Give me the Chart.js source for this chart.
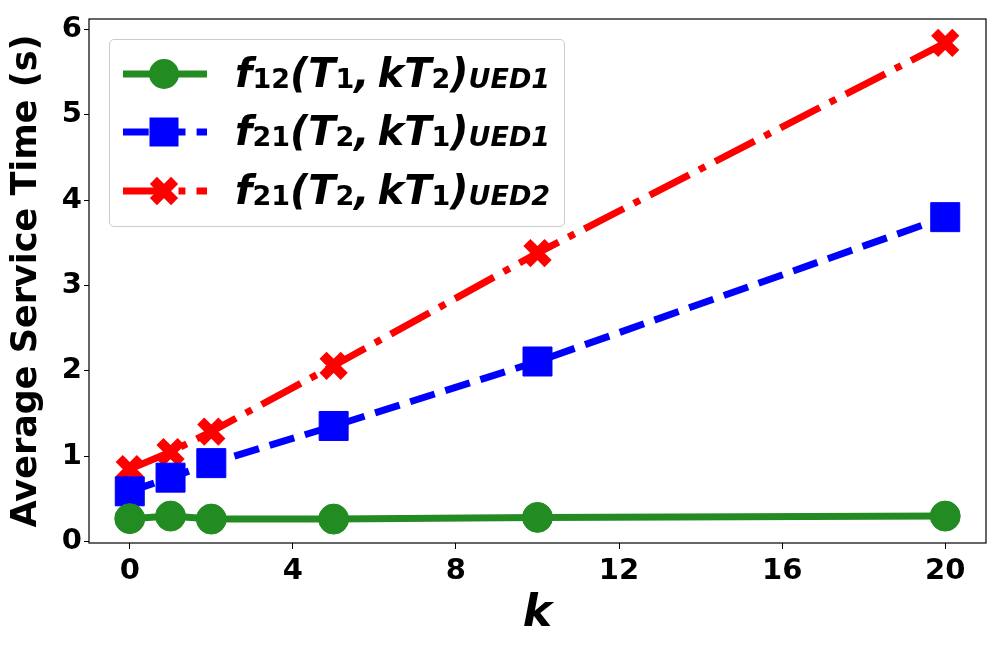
<!DOCTYPE html>
<html>
<head>
<meta charset="utf-8">
<script src="https://cdn.jsdelivr.net/npm/chart.js@4.4.0/dist/chart.umd.min.js"></script>
<style>
  html, body { margin: 0; padding: 0; background: #fff; }
  #wrap { position: relative; width: 1000px; height: 650px; }
  #c { position: absolute; left: 0; top: 0; }
  #legend {
    position: absolute; left: 109px; top: 39px; width: 456px; height: 188px;
    border: 1px solid #cccccc; border-radius: 5px; background: rgba(255,255,255,0.8);
    box-sizing: border-box;
  }
  .row { position: absolute; left: 0; height: 58px; width: 100%; }
  .row svg { position: absolute; left: 11px; top: 9px; }
  .row .t {
    position: absolute; left: 125px; top: -1px; line-height: 58px; white-space: nowrap;
    font-family: "DejaVu Sans"; font-weight: bold; font-style: italic; font-size: 40px; color: #000;
  }
  .row .t sub { font-size: 27px; vertical-align: -1px; line-height: 0; }
  .row .t sub.d { font-style: normal; }
</style>
</head>
<body>
<div id="wrap">
  <canvas id="c" width="1000" height="650"></canvas>
  <div id="legend"></div>
</div>
<script>
// ---- data ----
const kValues = [0, 1, 2, 5, 10, 20];
const f12UED1 = [0.27, 0.30, 0.265, 0.265, 0.285, 0.30];
const f21UED1 = [0.59, 0.75, 0.92, 1.355, 2.11, 3.80];
const f21UED2 = [0.85, 1.05, 1.29, 2.06, 3.38, 5.84];
const xTicks = [0, 4, 8, 12, 16, 20];
const yTicks = [0, 1, 2, 3, 4, 5, 6];
const seriesNames = ['f12(T1, kT2)UED1', 'f21(T2, kT1)UED1', 'f21(T2, kT1)UED2'];

const GREEN = '#228B22', BLUE = '#0000FF', RED = '#FF0000';
const toPts = ys => kValues.map((k, i) => ({ x: k, y: ys[i] }));

const framePlugin = {
  id: 'frame',
  afterDraw(chart) {
    const { ctx, chartArea: a } = chart;
    ctx.save();
    ctx.strokeStyle = '#000';
    ctx.lineWidth = 1.2;
    ctx.strokeRect(a.left, a.top, a.right - a.left, a.bottom - a.top);
    ctx.restore();
  }
};

new Chart(document.getElementById('c'), {
  type: 'line',
  data: {
    datasets: [
      { label: seriesNames[0], data: toPts(f12UED1), borderColor: GREEN, backgroundColor: GREEN,
        borderWidth: 7, pointStyle: 'circle', pointRadius: 15, pointHoverRadius: 15,
        pointBorderWidth: 1, pointBorderColor: GREEN, pointBackgroundColor: GREEN, tension: 0 },
      { label: seriesNames[1], data: toPts(f21UED1), borderColor: BLUE, backgroundColor: BLUE,
        borderWidth: 7, borderDash: [25.7, 11.1], pointStyle: 'rect', pointRadius: 20.5, pointHoverRadius: 20.5,
        pointBorderWidth: 1, pointBorderColor: BLUE, pointBackgroundColor: BLUE, tension: 0 },
      { label: seriesNames[2], data: toPts(f21UED2), borderColor: RED, backgroundColor: RED,
        borderWidth: 7, borderDash: [44.4, 11.1, 6.9, 11.1], pointStyle: 'crossRot', pointRadius: 15, pointHoverRadius: 15,
        pointBorderWidth: 10, pointBorderColor: RED, pointBackgroundColor: RED, tension: 0 }
    ]
  },
  options: {
    responsive: false,
    animation: false,
    devicePixelRatio: 1,
    layout: { autoPadding: false, padding: { left: 0, right: 14, top: 19, bottom: 0 } },
    plugins: { legend: { display: false }, tooltip: { enabled: false } },
    scales: {
      x: {
        type: 'linear', min: -1, max: 21,
        afterBuildTicks: s => { s.ticks = xTicks.map(v => ({ value: v })); },
        afterFit: s => { s.height = 107; s.paddingLeft = 0; s.paddingRight = 0; },
        grid: { display: true, drawOnChartArea: false, drawTicks: true, tickLength: 6, color: '#000', lineWidth: 1 },
        border: { display: false },
        ticks: { color: '#000', padding: 5, maxRotation: 0, font: { family: 'DejaVu Sans', weight: 'bold', size: 29 } },
        title: { display: true, text: 'k', color: '#000', padding: { top: 0, bottom: 9 },
                 font: { family: 'DejaVu Sans', weight: 'bold', style: 'italic', size: 44 } }
      },
      y: {
        type: 'linear', min: -0.015, max: 6.12,
        afterBuildTicks: s => { s.ticks = yTicks.map(v => ({ value: v })); },
        afterFit: s => { s.width = 89; s.paddingTop = 0; s.paddingBottom = 0; },
        grid: { display: true, drawOnChartArea: false, drawTicks: true, tickLength: 5, color: '#000', lineWidth: 1 },
        border: { display: false },
        ticks: { color: '#000', padding: 2, font: { family: 'DejaVu Sans', weight: 'bold', size: 29 } },
        title: { display: true, text: 'Average Service Time (s)', color: '#000', padding: { top: 6, bottom: 0 },
                 font: { family: 'DejaVu Sans', weight: 'bold', size: 35 } }
      }
    }
  },
  plugins: [framePlugin]
});

// ---- HTML legend (for subscripts) ----
const legendRows = [
  { color: GREEN, dash: '', marker: 'circle',
    html: '<i>f</i><sub class="d">12</sub>(<i>T</i><sub class="d">1</sub>,&#8201;<i>kT</i><sub class="d">2</sub>)<sub>UED1</sub>' },
  { color: BLUE, dash: '25.7 11.1', marker: 'rect',
    html: '<i>f</i><sub class="d">21</sub>(<i>T</i><sub class="d">2</sub>,&#8201;<i>kT</i><sub class="d">1</sub>)<sub>UED1</sub>' },
  { color: RED, dash: '44.4 11.1 6.9 11.1', marker: 'x',
    html: '<i>f</i><sub class="d">21</sub>(<i>T</i><sub class="d">2</sub>,&#8201;<i>kT</i><sub class="d">1</sub>)<sub>UED2</sub>' }
];
const lg = document.getElementById('legend');
legendRows.forEach((r, i) => {
  const row = document.createElement('div');
  row.className = 'row';
  row.style.top = (5 + i * 58.3) + 'px';
  let m = '';
  const cx = 43, cy = 20;
  if (r.marker === 'circle') m = `<circle cx="${cx}" cy="${cy}" r="15" fill="${r.color}"/>`;
  else if (r.marker === 'rect') m = `<rect x="${cx - 14.5}" y="${cy - 14.5}" width="29" height="29" fill="${r.color}"/>`;
  else m = `<g stroke="${r.color}" stroke-width="10"><line x1="${cx - 10.6}" y1="${cy - 10.6}" x2="${cx + 10.6}" y2="${cy + 10.6}"/><line x1="${cx - 10.6}" y1="${cy + 10.6}" x2="${cx + 10.6}" y2="${cy - 10.6}"/></g>`;
  row.innerHTML = `<svg width="90" height="40"><line x1="2" y1="${cy}" x2="86" y2="${cy}" stroke="${r.color}" stroke-width="7" ${r.dash ? `stroke-dasharray="${r.dash}"` : ''}/>${m}</svg><span class="t">${r.html}</span>`;
  lg.appendChild(row);
});
</script>
</body>
</html>
